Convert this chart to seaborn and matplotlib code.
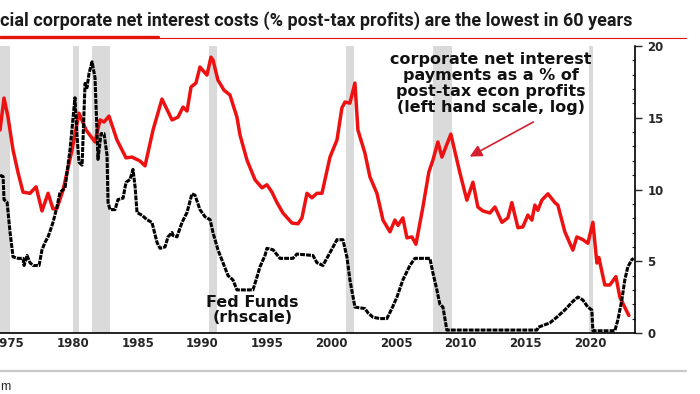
import matplotlib
matplotlib.use("Agg")
import matplotlib.pyplot as plt
import seaborn as sns
from matplotlib.lines import Line2D
from matplotlib.ticker import MultipleLocator, NullLocator

# corporate net interest payments as % of post-tax econ profits (lhs, log)
int_year = [1974.35, 1974.66, 1974.97, 1975.36, 1975.75, 1976.13, 1976.67, 1977.14, 1977.60, 1978.07,
            1978.45, 1978.76, 1979.23, 1979.92, 1980.46, 1981.01, 1981.70, 1982.09, 1982.40, 1982.78,
            1983.40, 1984.10, 1984.56, 1985.18, 1985.57, 1986.19, 1986.88, 1987.66, 1988.12, 1988.51,
            1988.82, 1989.13, 1989.51, 1989.82, 1990.36, 1990.67, 1990.83, 1991.21, 1991.68, 1992.14,
            1992.68, 1992.92, 1993.46, 1994.08, 1994.62, 1995.00, 1995.39, 1995.78, 1996.24, 1996.94,
            1997.40, 1997.71, 1998.10, 1998.48, 1998.87, 1999.26, 1999.88, 2000.42, 2000.80, 2001.04,
            2001.42, 2001.81, 2002.04, 2002.58, 2002.97, 2003.51, 2003.98, 2004.52, 2004.90, 2005.14,
            2005.52, 2005.83, 2006.22, 2006.53, 2007.07, 2007.53, 2007.84, 2008.23, 2008.54, 2009.23,
            2009.93, 2010.47, 2010.94, 2011.32, 2011.71, 2012.25, 2012.64, 2013.18, 2013.64, 2013.95,
            2014.42, 2014.80, 2015.19, 2015.50, 2015.73, 2015.96, 2016.27, 2016.74, 2017.28, 2017.51,
            2018.05, 2018.67, 2018.98, 2019.44, 2019.83, 2020.22, 2020.53, 2020.68, 2021.14, 2021.53,
            2022.00, 2022.31, 2022.85, 2023.00]
int_pct = [33.3, 46.5, 38.1, 27.0, 21.3, 17.4, 17.2, 18.4, 14.3, 17.2,
           14.6, 14.7, 17.8, 27.0, 39.7, 33.3, 29.4, 37.0, 36.2, 38.5,
           30.0, 24.9, 25.1, 24.1, 22.9, 33.3, 46.0, 37.0, 38.1, 42.3,
           40.6, 52.2, 54.4, 64.3, 59.1, 71.3, 69.1, 56.1, 50.5, 48.0,
           38.1, 31.6, 24.3, 19.8, 18.2, 18.8, 17.4, 15.6, 14.0, 12.6,
           12.5, 13.3, 17.2, 16.4, 17.2, 17.2, 25.1, 30.0, 41.9, 44.6,
           44.1, 54.4, 33.3, 26.2, 20.4, 17.2, 13.0, 11.5, 13.0, 12.3,
           13.3, 10.8, 10.9, 10.1, 14.9, 21.5, 24.3, 29.4, 25.1, 31.9,
           21.3, 16.0, 19.3, 14.9, 14.3, 14.0, 14.9, 12.7, 13.3, 15.6,
           12.0, 12.1, 13.7, 13.0, 15.2, 14.4, 16.0, 17.1, 15.6, 15.2,
           11.5, 9.5, 10.9, 10.6, 10.2, 12.7, 8.3, 8.8, 6.6, 6.6,
           7.2, 5.8, 5.0, 4.8]

# fed funds rate, % (rhs)
ff_year = [1974.35, 1974.59, 1974.66, 1974.90, 1975.13, 1975.36, 1975.75, 1976.13, 1976.21, 1976.44,
           1976.67, 1976.91, 1977.37, 1977.60, 1977.83, 1978.07, 1978.45, 1978.76, 1978.99, 1979.38,
           1979.77, 1980.15, 1980.31, 1980.46, 1980.70, 1980.93, 1981.08, 1981.24, 1981.47, 1981.70,
           1981.86, 1981.93, 1982.17, 1982.40, 1982.63, 1982.71, 1982.86, 1983.25, 1983.48, 1983.87,
           1984.10, 1984.41, 1984.64, 1984.80, 1984.95, 1985.34, 1985.72, 1986.11, 1986.50, 1986.73,
           1987.12, 1987.35, 1987.66, 1987.73, 1988.04, 1988.43, 1988.82, 1989.20, 1989.44, 1989.82,
           1990.21, 1990.60, 1990.83, 1991.21, 1991.60, 1991.99, 1992.37, 1992.68, 1993.92, 1994.23,
           1994.46, 1994.85, 1995.00, 1995.47, 1996.01, 1997.01, 1997.32, 1998.56, 1998.87, 1999.33,
           1999.88, 2000.42, 2000.88, 2001.19, 2001.42, 2001.81, 2002.58, 2002.82, 2003.20, 2003.74,
           2004.28, 2004.67, 2005.06, 2005.52, 2006.06, 2006.45, 2007.61, 2007.84, 2008.15, 2008.38,
           2008.62, 2008.92, 2015.89, 2016.00, 2016.89, 2017.43, 2018.05, 2018.67, 2019.06, 2019.44,
           2019.83, 2020.14, 2020.22, 2021.92, 2022.15, 2022.46, 2022.69, 2022.92, 2023.23, 2023.38]
ff_rate = [11.0, 10.9, 9.3, 9.1, 7.0, 5.3, 5.2, 5.2, 4.7, 5.4,
           4.9, 4.7, 4.7, 5.8, 6.3, 6.7, 7.7, 8.8, 9.8, 10.1,
           12.8, 16.4, 13.7, 11.9, 11.7, 17.4, 17.1, 18.1, 18.9, 17.8,
           13.9, 12.1, 13.9, 13.9, 12.4, 9.1, 8.6, 8.6, 9.3, 9.4,
           10.5, 10.7, 11.4, 10.2, 8.4, 8.2, 7.9, 7.7, 6.3, 5.9,
           6.0, 6.7, 7.0, 6.8, 6.7, 7.7, 8.4, 9.7, 9.6, 8.6,
           8.1, 7.9, 7.0, 5.8, 4.9, 4.0, 3.7, 3.0, 3.0, 3.9,
           4.6, 5.4, 5.9, 5.8, 5.2, 5.2, 5.5, 5.4, 4.9, 4.7,
           5.6, 6.5, 6.5, 5.3, 3.7, 1.8, 1.7, 1.4, 1.1, 1.0,
           1.0, 1.7, 2.5, 3.7, 4.7, 5.2, 5.2, 4.2, 3.0, 2.0,
           1.8, 0.2, 0.2, 0.4, 0.7, 1.1, 1.6, 2.2, 2.5, 2.3,
           1.8, 1.6, 0.15, 0.15, 0.9, 2.3, 3.7, 4.6, 5.1, 5.2]

# recessions (shaded)
rec_start = [1973.9, 1980.0, 1981.5, 1990.5, 2001.15, 2007.85, 2019.95]
rec_end = [1975.15, 1980.5, 1982.85, 1991.15, 2001.75, 2009.35, 2020.2]

TITLE = "cial corporate net interest costs (% post-tax profits) are the lowest in 60 years"
RED = "#ee1111"
DARKRED = "#d42030"

sns.set_style("white")
plt.rcParams['font.family'] = ['DejaVu Sans']

fig = plt.figure(figsize=(7, 3.94), dpi=100)
ax = fig.add_axes([0.0, 0.155, 0.907, 0.728])
ax2 = ax.twinx()

for s, e in zip(rec_start, rec_end):
    ax.axvspan(s, e, color="#dadada", lw=0, zorder=0)

sns.lineplot(x=int_year, y=int_pct, ax=ax, color=RED, lw=2.5, estimator=None, sort=False, zorder=3)
sns.lineplot(x=ff_year, y=ff_rate, ax=ax2, color="black", lw=2.2, linestyle=(0, (1.6, 0.35)),
             estimator=None, sort=False, zorder=3)

ax.set_yscale("log")
ax.set_ylim(4, 80)
ax.yaxis.set_major_locator(NullLocator())
ax.yaxis.set_minor_locator(NullLocator())
ax.set_xlim(1974.35, 2023.47)
ax.xaxis.set_major_locator(MultipleLocator(5))
ax.xaxis.set_minor_locator(MultipleLocator(1))
ax.tick_params(axis="x", which="major", direction="in", length=4, width=1, pad=3, labelsize=8.5)
ax.tick_params(axis="x", which="minor", direction="in", length=2.5, width=0.8)
for lab in ax.get_xticklabels():
    lab.set_fontweight("bold")
for sp in ["left", "top", "right"]:
    ax.spines[sp].set_visible(False)
ax.spines["bottom"].set_color("black")
ax.spines["bottom"].set_linewidth(1.2)

ax2.set_ylim(0, 20)
ax2.yaxis.set_major_locator(MultipleLocator(5))
ax2.yaxis.set_minor_locator(MultipleLocator(1))
ax2.tick_params(axis="y", which="major", direction="out", length=5, width=1, pad=4, labelsize=8.5)
ax2.tick_params(axis="y", which="minor", direction="in", length=2.5, width=0.8)
for lab in ax2.get_yticklabels():
    lab.set_fontweight("bold")
for sp in ["left", "top", "bottom"]:
    ax2.spines[sp].set_visible(False)
ax2.spines["right"].set_color("black")
ax2.spines["right"].set_linewidth(1.2)
ax.set_xlabel("")
ax.set_ylabel("")
ax2.set_ylabel("")

ax2.text(2012.3, 19.6, "corporate net interest\npayments as a % of\npost-tax econ profits\n(left hand scale, log)",
         ha="center", va="top", fontsize=11.5, fontweight="bold", linespacing=1.08, color="#111111")
ax2.annotate("", xy=(2010.5, 12.2), xytext=(2015.8, 14.8),
             arrowprops=dict(arrowstyle="-|>", color=DARKRED, lw=1.2, mutation_scale=18))
ax2.text(1993.9, 1.6, "Fed Funds\n(rhscale)", ha="center", va="center",
         fontsize=11.5, fontweight="bold", linespacing=0.98, color="#111111")

# header: fit the title to the width it takes in the original
title = fig.text(0.0, 1 - 26 / 394, TITLE, ha="left", va="baseline", fontsize=14, fontweight="bold",
                 family=["Roboto", "DejaVu Sans"], color="#1a1a1a")
fig.canvas.draw()
w = title.get_window_extent().width
title.set_fontsize(14 * 632 / w)

fig.add_artist(Line2D([0, 158 / 700], [1 - 37 / 394] * 2, color="#e3120b", lw=2.4, transform=fig.transFigure))
fig.add_artist(Line2D([158 / 700, 686 / 700], [1 - 38 / 394] * 2, color="#e3120b", lw=0.8, transform=fig.transFigure))
fig.add_artist(Line2D([0, 686 / 700], [1 - 371 / 394] * 2, color="#c8c8c8", lw=1.6, transform=fig.transFigure))
fig.text(0.0, 1 - 387 / 394, "m", ha="left", va="center", fontsize=9, family=["Liberation Sans", "DejaVu Sans"])

fig.savefig("out.png", dpi=100)
